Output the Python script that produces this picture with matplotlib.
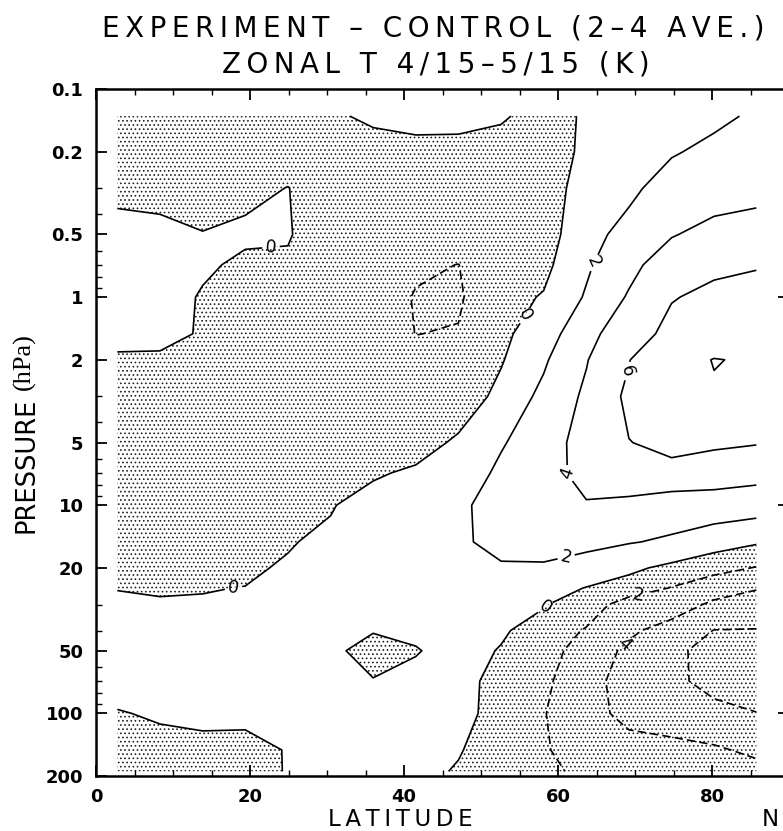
import matplotlib
matplotlib.use("Agg")
import matplotlib.pyplot as plt
import numpy as np
from matplotlib.ticker import NullLocator

# model latitudes (deg N) and pressure levels (hPa)
lats = [2.77, 8.31, 13.85, 19.38, 24.92, 30.46, 35.99, 41.53,
        47.07, 52.61, 58.14, 63.68, 69.21, 74.75, 80.27, 85.76]
pres = [0.135, 0.2, 0.3, 0.5, 0.7, 1, 1.5, 2, 3, 5, 7, 10,
        15, 20, 25, 30, 40, 50, 70, 100, 150, 190]

# temperature difference (K), one row per pressure level
dT = [
    [-0.8, -0.8, -0.8, -0.8, -0.8, -0.25, 0.3, 0.5, 0.4, 0.15, -0.5, 0.15, 0.8, 1.2, 1.7, 2.2],
    [-0.6, -0.7, -0.7, -0.7, -0.5, -0.8, -0.77, -0.54, -0.47, -0.6, -0.9, 0.35, 1.2, 1.85, 2.4, 2.9],
    [-0.3, -0.4, -0.5, -0.33, 0.03, -0.7, -1.0, -1.0, -1.0, -0.9, -0.8, 0.7, 1.57, 2.9, 3.4, 3.6],
    [0.5, 0.4, 0.05, 0.3, 0.1, -0.8, -1.1, -1.4, -1.5, -1.0, -0.8, 1.2, 2.8, 3.9, 4.5, 4.7],
    [0.8, 0.9, 0.3, -0.37, -0.2, -1.0, -1.2, -1.8, -2.02, -1.0, -0.5, 1.74, 3.5, 5.0, 5.7, 5.9],
    [0.8, 1.0, -0.2, -0.9, -1.0, -1.2, -1.2, -2.1, -2.2, -0.7, 0.15, 2.2, 4.2, 5.9, 6.4, 6.6],
    [0.4, 0.5, -0.15, -1.1, -1.3, -1.3, -1.3, -2.02, -1.9, -0.4, 1.0, 3.5, 5.0, 6.6, 7.2, 7.2],
    [-0.2, -0.3, -0.6, -1.2, -1.4, -1.4, -1.3, -1.6, -1.6, -0.15, 1.75, 3.9, 5.95, 7.4, 8.05, 7.85],
    [-0.8, -0.9, -1.1, -1.3, -1.4, -1.4, -1.2, -1.4, -1.3, 0.6, 2.5, 4.35, 6.4, 7.3, 7.85, 7.4],
    [-1.0, -1.1, -1.2, -1.3, -1.4, -1.3, -0.9, -1.1, 0.43, 1.8, 3.3, 4.6, 5.95, 6.5, 6.3, 6.1],
    [-1.0, -1.1, -1.2, -1.3, -1.3, -0.9, -0.34, 0.47, 0.54, 2.5, 3.5, 4.4, 4.9, 5.4, 4.9, 4.6],
    [-1.0, -1.0, -1.1, -1.2, -1.0, -0.2, 1.23, 1.3, 1.64, 2.8, 3.3, 3.9, 3.6, 2.77, 3.0, 2.8],
    [-0.9, -0.9, -1.0, -1.0, -0.2, 0.6, 1.3, 1.5, 1.73, 2.5, 2.6, 2.3, 2.1, 1.76, 0.83, 0.2],
    [-0.6, -0.7, -0.7, -0.4, 0.3, 0.9, 1.2, 1.4, 1.3, 1.8, 1.8, 1.47, 0.43, -0.5, -1.35, -2.1],
    [-0.05, -0.2, -0.1, 0.05, 0.6, 1.0, 1.0, 1.2, 1.0, 1.2, 1.0, -0.09, -0.91, -2.1, -3.3, -3.9],
    [0.3, 0.2, 0.2, 0.3, 0.7, 0.8, 0.6, 0.9, 0.9, 0.8, 0.1, -0.9, -3.0, -3.2, -4.3, -4.8],
    [0.6, 0.5, 0.5, 0.6, 0.9, 0.5, 0.05, 0.3, 0.7, 0.2, -0.7, -2.2, -3.7, -4.7, -6.05, -6.1],
    [0.8, 0.7, 0.7, 0.9, 1.0, 0.2, -0.35, -0.1, 0.6, -0.1, -1.2, -2.9, -4.4, -5.5, -6.8, -6.6],
    [0.6, 0.7, 0.7, 0.9, 1.0, 0.4, 0.05, 0.5, 0.5, -0.5, -1.6, -3.4, -4.7, -5.3, -7.0, -7.0],
    [-0.1, 0.2, 0.3, 0.4, 0.6, 0.6, 0.7, 0.8, 0.6, -0.7, -1.9, -3.5, -4.4, -4.9, -5.0, -5.95],
    [-0.8, -0.6, -0.4, -0.6, 0.1, 0.5, 0.8, 0.7, 0.12, -0.9, -1.8, -3.0, -3.4, -3.4, -3.8, -4.3],
    [-1.0, -1.0, -0.7, -0.8, 0.12, 0.5, 0.8, 0.5, -0.15, -0.9, -1.5, -2.5, -2.8, -2.7, -3.0, -3.5],
]

levels = [-6, -4, -2, 0, 2, 4, 6, 8]
yticks = [0.1, 0.2, 0.5, 1, 2, 5, 10, 20, 50, 100, 200]
ytick_labels = ["0.1", "0.2", "0.5", "1", "2", "5", "10", "20", "50", "100", "200"]
yminor = [0.3, 0.4, 0.6, 0.7, 0.8, 0.9, 3, 4, 6, 7, 8, 9,
          30, 40, 60, 70, 80, 90]
xticks = [0, 20, 40, 60, 80]

# where the contour labels sit (lat, hPa)
label_spots = [(22.7, 0.56), (17.9, 25.6), (56.1, 1.25), (64.7, 0.68),
               (69.1, 2.26), (60.4, 7.3), (61.0, 17.3), (58.4, 31.0),
               (70.5, 27.4), (68.8, 47.0)]

plt.rcParams["hatch.color"] = "#222222"
plt.rcParams["hatch.linewidth"] = 0.7
plt.rcParams["font.family"] = ["DejaVu Sans"]

fig = plt.figure(figsize=(7.83, 8.31), dpi=100)
ax = fig.add_axes([96 / 783, 55 / 831, 693 / 783, 687 / 831])
ax.set_yscale("log")

z = np.array(dT)
# stipple the negative area
ax.contourf(lats, pres, z, levels=[-100, 0], colors="none", hatches=["...."])
styles = [(0, (5, 2.5)) if lv < 0 else "solid" for lv in levels]
cs = ax.contour(lats, pres, z, levels=levels, colors="black",
                linewidths=1.2, linestyles=styles)
ax.clabel(cs, fmt=lambda v: "%d" % abs(v), fontsize=12.5, inline=True,
          inline_spacing=4, manual=label_spots)

ax.set_xlim(0, 90)
ax.set_ylim(200, 0.1)
ax.set_xticks(xticks)
ax.set_xticks(range(0, 90, 5), minor=True)
ax.set_yticks(yticks)
ax.set_yticklabels(ytick_labels)
ax.set_yticks(yminor, minor=True)
ax.tick_params(which="both", direction="in", top=True, right=False)
ax.tick_params(which="major", length=8, width=1.3, labelsize=13, pad=9)
ax.tick_params(which="minor", length=4, width=1.0)
for lab in ax.get_xticklabels() + ax.get_yticklabels():
    lab.set_fontweight("bold")
for s in ax.spines.values():
    s.set_linewidth(1.8)

# right side only has ticks at the decades
rt = ax.twinx()
rt.set_yscale("log")
rt.set_ylim(200, 0.1)
rt.set_yticks([1, 10, 100])
rt.set_yticklabels([])
rt.yaxis.set_minor_locator(NullLocator())
rt.tick_params(direction="in", length=8, width=1.3)
for s in rt.spines.values():
    s.set_visible(False)

ts = "\u2009"
fig.text(0.553, 0.9555, ts.join("EXPERIMENT \u2013 CONTROL (2\u20134 AVE.)"),
         fontsize=20, ha="center", va="baseline")
fig.text(0.556, 0.913, ts.join("ZONAL T 4/15\u20135/15 (K)"),
         fontsize=20, ha="center", va="baseline")
fig.text(400 / 783, 1 - 819 / 831, ts.join("LATITUDE"), fontsize=16.5,
         ha="center", va="center")
fig.text(770 / 783, 1 - 819 / 831, "N", fontsize=16.5, ha="center", va="center")
fig.text(26 / 783, 1 - 465 / 831, "PRESSURE", fontsize=18.5, rotation=90,
         ha="center", va="center")
fig.text(24 / 783, 1 - 362 / 831, "(hPa)", fontsize=19, rotation=90,
         ha="center", va="center", family="Liberation Serif")

fig.savefig("out.png", dpi=100)
